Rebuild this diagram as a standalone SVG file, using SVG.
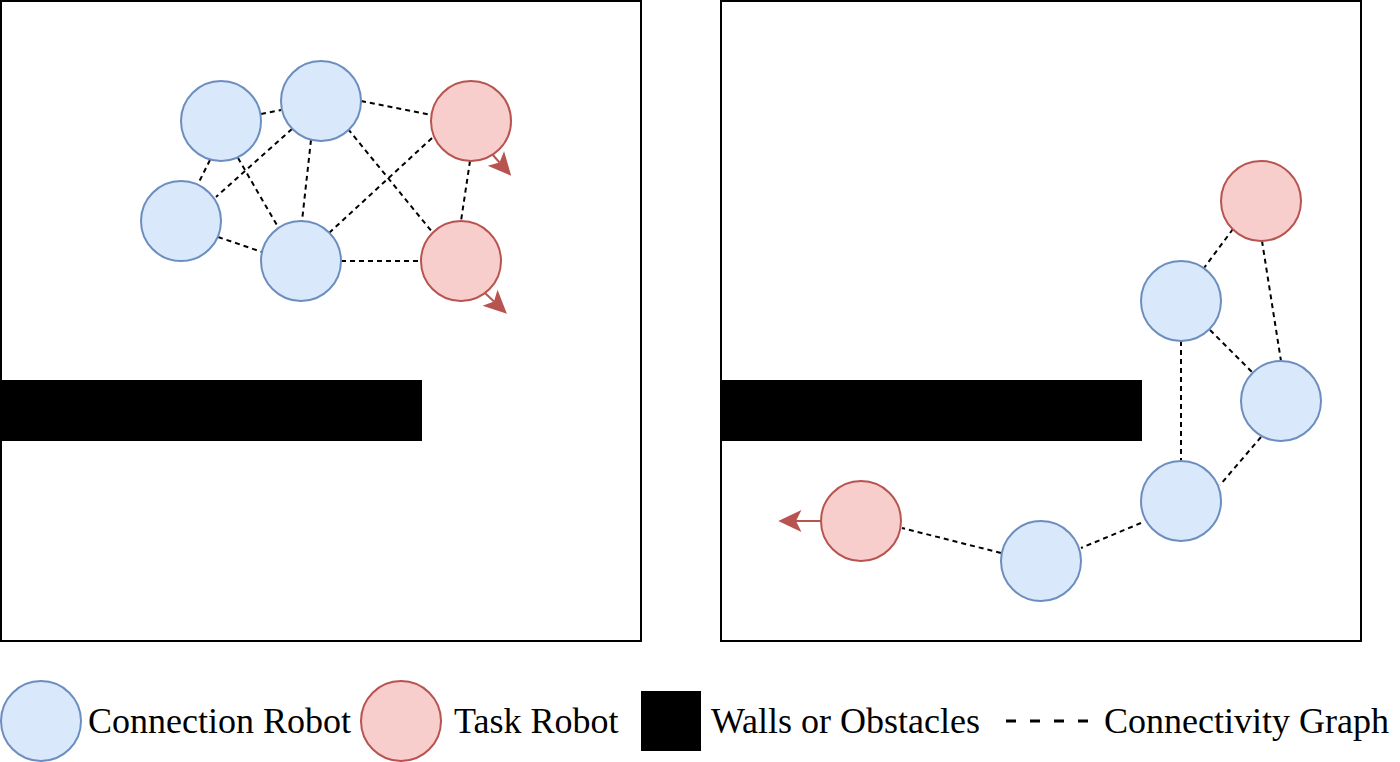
<svg xmlns="http://www.w3.org/2000/svg" width="1400" height="762" viewBox="0 0 1400 762">
<style>
.panel{fill:#ffffff;stroke:#000000;stroke-width:2}
.wall{fill:#000000}
.conn{fill:#dae8fc;stroke:#6c8ebf;stroke-width:2}
.task{fill:#f8cecc;stroke:#b85450;stroke-width:2}
.edge{stroke:#000000;stroke-width:2;stroke-dasharray:5 4;fill:none}
.move{stroke:#b85450;stroke-width:2;fill:none;marker-end:url(#ah)}
.lbl{font-family:"Liberation Serif","Times New Roman",serif;font-size:36px;fill:#000000}
</style>
<defs>
<marker id="ah" markerUnits="userSpaceOnUse" markerWidth="30" markerHeight="30" viewBox="-6 -10 22 20" refX="0" refY="0" orient="auto">
<path d="M13,0 L-4,-8 L0,0 L-4,8 Z" fill="#b85450"/>
</marker>
</defs>
<rect class="panel" x="1" y="1" width="640" height="640"/>
<rect class="panel" x="721" y="1" width="640" height="640"/>
<rect class="wall" x="0" y="380" width="422" height="61"/>
<rect class="wall" x="721" y="380" width="421" height="61"/>
<g id="connectors">
<line class="edge" x1="261" y1="114" x2="281" y2="110"/>
<line class="edge" x1="361" y1="101" x2="432" y2="115"/>
<line class="edge" x1="210" y1="160" x2="197" y2="186"/>
<line class="edge" x1="292" y1="129" x2="216" y2="197"/>
<line class="edge" x1="238" y1="158" x2="278" y2="227"/>
<line class="edge" x1="311" y1="140" x2="302" y2="221"/>
<line class="edge" x1="348" y1="129" x2="433" y2="233"/>
<line class="edge" x1="432" y1="138" x2="329" y2="233"/>
<line class="edge" x1="218" y1="237" x2="265" y2="253"/>
<line class="edge" x1="341" y1="261" x2="421" y2="261"/>
<line class="edge" x1="470" y1="161" x2="461" y2="221"/>
<line class="edge" x1="1233" y1="229" x2="1204" y2="268"/>
<line class="edge" x1="1262" y1="241" x2="1281" y2="361"/>
<line class="edge" x1="1210" y1="330" x2="1253" y2="373"/>
<line class="edge" x1="1181" y1="341" x2="1181" y2="461"/>
<line class="edge" x1="1261" y1="437" x2="1220" y2="485"/>
<line class="edge" x1="1141" y1="523" x2="1081" y2="548"/>
<line class="edge" x1="1001" y1="553" x2="902" y2="528"/>
<line class="move" x1="492" y1="154" x2="499.5" y2="162.5"/>
<line class="move" x1="485" y1="293" x2="494" y2="301.5"/>
<line class="move" x1="821" y1="521" x2="796" y2="521"/>
</g>
<g id="n1"><circle class="conn" cx="221" cy="121" r="40"/></g>
<g id="n2"><circle class="conn" cx="321" cy="101" r="40"/></g>
<g id="n3"><circle class="conn" cx="181" cy="221" r="40"/></g>
<g id="n4"><circle class="conn" cx="301" cy="261" r="40"/></g>
<g id="n5"><circle class="task" cx="471" cy="121" r="40"/></g>
<g id="n6"><circle class="task" cx="461" cy="261" r="40"/></g>
<g id="n7"><circle class="task" cx="1261" cy="201" r="40"/></g>
<g id="n8"><circle class="conn" cx="1181" cy="301" r="40"/></g>
<g id="n9"><circle class="conn" cx="1281" cy="401" r="40"/></g>
<g id="n10"><circle class="conn" cx="1181" cy="501" r="40"/></g>
<g id="n11"><circle class="conn" cx="1041" cy="561" r="40"/></g>
<g id="n12"><circle class="task" cx="861" cy="521" r="40"/></g>
<g id="legend">
<circle class="conn" cx="41" cy="721" r="40"/>
<text class="lbl" x="88" y="733">Connection Robot</text>
<circle class="task" cx="401" cy="721" r="40"/>
<text class="lbl" x="454" y="733">Task Robot</text>
<rect class="wall" x="641" y="691" width="60" height="60"/>
<text class="lbl" x="711" y="733">Walls or Obstacles</text>
<line x1="1006" y1="721" x2="1088" y2="721" stroke="#000000" stroke-width="3" stroke-dasharray="10 14"/>
<text class="lbl" x="1104" y="733">Connectivity Graph</text>
</g>
</svg>
